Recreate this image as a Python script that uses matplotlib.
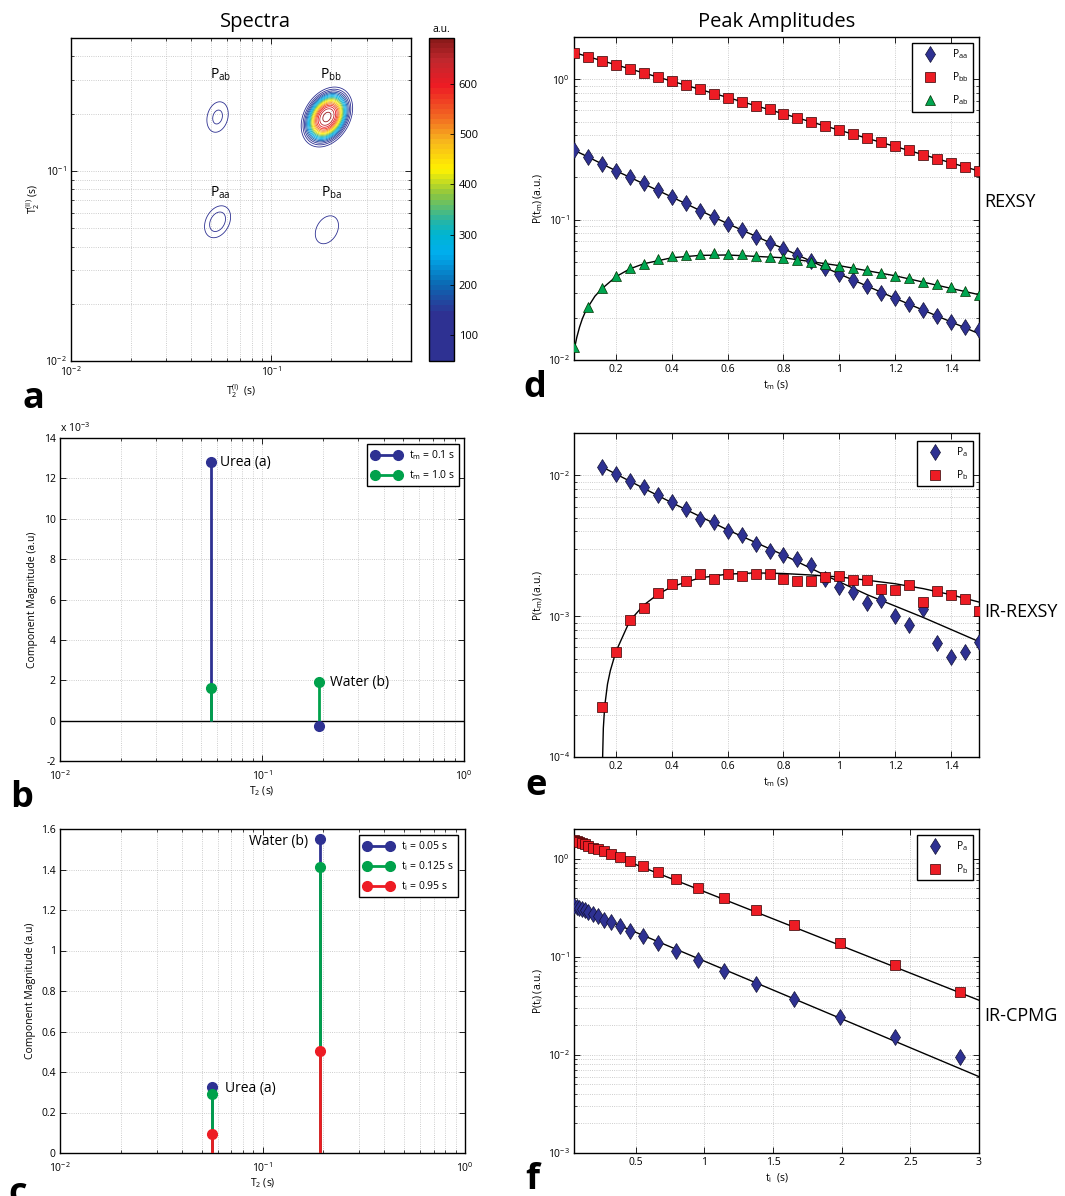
import numpy as np
import matplotlib
matplotlib.use('Agg')
import matplotlib.pyplot as plt
from matplotlib.lines import Line2D
from matplotlib.colors import Normalize, LinearSegmentedColormap
from matplotlib.cm import ScalarMappable
from matplotlib.ticker import NullFormatter, FuncFormatter, MultipleLocator, FixedLocator

plt.rcParams['font.family'] = ['Open Sans', 'DejaVu Sans']
plt.rcParams['mathtext.fontset'] = 'custom'
plt.rcParams['mathtext.rm'] = 'Open Sans'
plt.rcParams['mathtext.it'] = 'Open Sans:italic'
plt.rcParams['mathtext.bf'] = 'Open Sans:bold'
plt.rcParams['axes.unicode_minus'] = True

BLUE = '#2e3192'
GREEN = '#00a14b'
RED = '#ed1c24'
TRI_GREEN = '#00a651'

# ---- (a) 2D T2-T2 spectrum: peak centres (s), amplitudes, widths (decades)
peak_t2_1 = [0.054, 0.054, 0.19, 0.19]
peak_t2_2 = [0.054, 0.192, 0.049, 0.192]
peak_amp = [110, 100, 80, 690]
peak_wx = [0.055, 0.048, 0.064, 0.066]
peak_wy = [0.071, 0.072, 0.081, 0.081]
peak_rho = [0.3, 0.2, 0.3, 0.3]
peak_shape = 1.4
peak_labels = ['aa', 'ab', 'ba', 'bb']
label_pos = [(0.056, 0.077), (0.056, 0.32), (0.2, 0.077), (0.2, 0.32)]
cbar_range = (48, 692)

# ---- (b) component magnitudes vs T2, REXSY
t2_comp = [0.056, 0.192]
mag_tm01 = [12.8e-3, -0.28e-3]
mag_tm10 = [1.62e-3, 1.91e-3]

# ---- (c) component magnitudes vs T2, IR-CPMG
mag_ti005 = [0.327, 1.553]
mag_ti0125 = [0.290, 1.414]
mag_ti095 = [0.092, 0.502]

# ---- (d) REXSY peak amplitudes
tm_d = [0.05, 0.10, 0.15, 0.20, 0.25, 0.30, 0.35, 0.40, 0.45, 0.50,
        0.55, 0.60, 0.65, 0.70, 0.75, 0.80, 0.85, 0.90, 0.95, 1.00,
        1.05, 1.10, 1.15, 1.20, 1.25, 1.30, 1.35, 1.40, 1.45, 1.50]
p_aa_d = [0.313, 0.280, 0.251, 0.223, 0.200, 0.182, 0.162, 0.145, 0.131, 0.116,
          0.104, 0.0936, 0.0840, 0.0757, 0.0682, 0.0621, 0.0560, 0.0510, 0.0453, 0.0410,
          0.0370, 0.0335, 0.0302, 0.0278, 0.0249, 0.0227, 0.0207, 0.0187, 0.0172, 0.0163]
p_bb_d = [1.55, 1.45, 1.36, 1.27, 1.19, 1.11, 1.04, 0.97, 0.91, 0.85,
          0.79, 0.74, 0.69, 0.65, 0.61, 0.57, 0.53, 0.50, 0.465, 0.435,
          0.41, 0.38, 0.356, 0.333, 0.311, 0.291, 0.272, 0.254, 0.238, 0.222]
p_ab_d = [0.0123, 0.0239, 0.0324, 0.0395, 0.0450, 0.0486, 0.0521, 0.0548, 0.0563, 0.0573,
          0.0576, 0.0573, 0.0566, 0.0554, 0.0545, 0.0533, 0.0516, 0.0497, 0.0481, 0.0468,
          0.0453, 0.0436, 0.0417, 0.0395, 0.0382, 0.0357, 0.0348, 0.0330, 0.0310, 0.0290]
fit_bb_d_t = [0.05, 1.5]
fit_bb_d = [1.55, 0.222]
fit_aa_d_t = [0.05, 0.2, 0.4, 0.6, 0.8, 1.0, 1.2, 1.5]
fit_aa_d = [0.313, 0.223, 0.145, 0.0936, 0.0621, 0.0410, 0.0275, 0.0154]
fit_ab_d_t = [0.05, 0.06, 0.07, 0.08, 0.09, 0.10, 0.125, 0.15, 0.2, 0.25,
              0.3, 0.4, 0.5, 0.6, 0.8, 1.0, 1.2, 1.5]
fit_ab_d = [0.0116, 0.0145, 0.0172, 0.0197, 0.0219, 0.0238, 0.0285, 0.0322, 0.0392, 0.0446,
            0.0485, 0.0535, 0.0556, 0.0560, 0.0535, 0.0470, 0.0398, 0.0292]

# ---- (e) IR-REXSY peak amplitudes
tm_e = [0.15, 0.20, 0.25, 0.30, 0.35, 0.40, 0.45, 0.50, 0.55, 0.60,
        0.65, 0.70, 0.75, 0.80, 0.85, 0.90, 0.95, 1.00, 1.05, 1.10,
        1.15, 1.20, 1.25, 1.30, 1.35, 1.40, 1.45, 1.50]
p_a_e = [0.0115, 0.0103, 0.00906, 0.00821, 0.00724, 0.00642, 0.00579, 0.00494, 0.00463, 0.00406,
         0.00378, 0.00326, 0.00290, 0.00273, 0.00253, 0.00232, 0.00184, 0.00160, 0.00149, 0.00124,
         0.00131, 0.00100, 0.000862, 0.00112, 0.000643, 0.000511, 0.000560, 0.000659]
p_b_e = [0.000225, 0.000560, 0.000946, 0.00115, 0.00146, 0.00169, 0.00177, 0.00201, 0.00185, 0.00201,
         0.00194, 0.00201, 0.00198, 0.00185, 0.00179, 0.00177, 0.00190, 0.00192, 0.00181, 0.00182,
         0.00157, 0.00153, 0.00166, 0.00127, 0.00150, 0.00141, 0.00132, 0.00108]
fit_a_e_t = [0.15, 0.4, 0.6, 0.8, 0.95, 1.1, 1.3, 1.5]
fit_a_e = [0.0115, 0.0064, 0.0041, 0.00272, 0.00195, 0.00142, 0.00098, 0.00066]
fit_b_e_t = [0.1525, 0.155, 0.16, 0.17, 0.18, 0.2, 0.25, 0.3, 0.35, 0.4,
             0.5, 0.6, 0.7, 0.8, 0.9, 1.0, 1.1, 1.2, 1.3, 1.4, 1.5]
fit_b_e = [0.0001, 0.00016, 0.00023, 0.00033, 0.00041, 0.00056, 0.00093, 0.00120, 0.00143, 0.00162,
           0.00187, 0.00199, 0.00203, 0.00201, 0.00196, 0.00190, 0.00180, 0.00170, 0.00157, 0.00142,
           0.00126]

# ---- (f) IR-CPMG peak amplitudes
ti_f = [0.05, 0.07, 0.09, 0.11, 0.13, 0.15, 0.19, 0.225, 0.265, 0.32, 0.385,
        0.46, 0.55, 0.66, 0.795, 0.95, 1.14, 1.375, 1.655, 1.985, 2.385, 2.865]
p_a_f = [0.326, 0.320, 0.313, 0.306, 0.297, 0.288, 0.274, 0.258, 0.238, 0.224, 0.204,
         0.183, 0.161, 0.138, 0.115, 0.0929, 0.0718, 0.0525, 0.0372, 0.0242, 0.0151, 0.00942]
p_b_f = [1.54, 1.51, 1.48, 1.45, 1.40, 1.35, 1.28, 1.24, 1.19, 1.12, 1.04,
         0.947, 0.835, 0.731, 0.620, 0.502, 0.393, 0.297, 0.208, 0.138, 0.082, 0.0441]
fit_a_f_t = [0.05, 3.0]
fit_a_f = [0.326, 0.0060]
fit_b_f_t = [0.05, 3.0]
fit_b_f = [1.54, 0.036]

W, H = 1065, 1196
fig = plt.figure(figsize=(W / 100, H / 100), dpi=100)


def box(l, t, r, b):
    return [l / W, 1 - b / H, (r - l) / W, (b - t) / H]


def style(ax, fs=7.5):
    ax.tick_params(which='both', direction='in', top=True, right=True, labelsize=fs, pad=3)
    ax.tick_params(which='major', length=4, width=0.6)
    ax.tick_params(which='minor', length=2, width=0.5)
    ax.grid(True, which='both', ls=':', lw=0.6, color='#bdbdbd')
    ax.set_axisbelow(True)
    for s in ax.spines.values():
        s.set_linewidth(1.0)
    ax.xaxis.set_minor_formatter(NullFormatter())
    ax.yaxis.set_minor_formatter(NullFormatter())


def legend_box(ax, handles, labels, anchor, **kw):
    leg = ax.legend(handles, labels, loc='upper right', bbox_to_anchor=anchor,
                    borderaxespad=0, fancybox=False, framealpha=1, edgecolor='black',
                    fontsize=7.5, **kw)
    leg.get_frame().set_linewidth(1.0)
    return leg


# ---------------- (a) spectrum contour ----------------
ax_a = fig.add_axes(box(71, 38, 411, 361))
cax = fig.add_axes(box(429, 38, 454, 361))
cmap_nodes = [(0.0, '#2e3192'), (0.143, '#2e3192'), (0.236, '#0a6cb5'),
              (0.329, '#00aeef'), (0.391, '#00b5d1'), (0.438, '#2bb5a0'),
              (0.516, '#8dc63f'), (0.593, '#fff200'), (0.686, '#f7b41d'),
              (0.764, '#f26522'), (0.857, '#ed1c24'), (0.935, '#c1272d'),
              (1.0, '#8b1a1a')]
jet = LinearSegmentedColormap.from_list('printjet', cmap_nodes).resampled(64)
norm = Normalize(*cbar_range)

lg = np.linspace(np.log10(0.01), np.log10(0.5), 400)
LX, LY = np.meshgrid(lg, lg)
Z = np.zeros_like(LX)
for t1, t2, amp, sx, sy, rho in zip(peak_t2_1, peak_t2_2, peak_amp, peak_wx, peak_wy, peak_rho):
    dx = (LX - np.log10(t1)) / sx
    dy = (LY - np.log10(t2)) / sy
    q = (dx ** 2 - 2 * rho * dx * dy + dy ** 2) / (2 * (1 - rho ** 2))
    Z += amp * np.exp(-q ** peak_shape)

ax_a.contour(10 ** LX, 10 ** LY, Z, levels=np.linspace(60, 680, 19),
             cmap=jet, norm=norm, linewidths=0.6)
ax_a.set_xscale('log')
ax_a.set_yscale('log')
ax_a.set_xlim(0.01, 0.5)
ax_a.set_ylim(0.01, 0.5)
style(ax_a)
for name, (px, py) in zip(peak_labels, label_pos):
    ax_a.text(px, py, r'$\mathregular{P_{%s}}$' % name, ha='center', va='center', fontsize=10)
ax_a.set_xlabel(r'$\mathregular{T_2^{(I)}}$  (s)', fontsize=7.5, labelpad=2)
ax_a.set_ylabel(r'$\mathregular{T_2^{(II)}}$ (s)', fontsize=7.5, labelpad=2)

cb = fig.colorbar(ScalarMappable(norm=norm, cmap=jet), cax=cax)
cb.set_ticks([100, 200, 300, 400, 500, 600])
cb.ax.tick_params(labelsize=8, direction='in', length=3, width=0.6)
cb.outline.set_linewidth(1.0)
cax.text(0.5, 1.01, 'a.u.', transform=cax.transAxes, ha='center', va='bottom', fontsize=7.5)

fig.text(255 / W, 1 - 22 / H, 'Spectra', ha='center', va='center', fontsize=14.5)
fig.text(777 / W, 1 - 22 / H, 'Peak Amplitudes', ha='center', va='center', fontsize=14.5)


def stems(ax, x, y, color):
    ax.vlines(x, 0, y, color=color, lw=2.0, zorder=3)
    ax.plot(x, y, 'o', color=color, ms=7, zorder=4)


def stem_handle(color):
    return Line2D([], [], color=color, lw=2.0, marker='o', ms=7, markevery=[1])


# ---------------- (b) REXSY components ----------------
ax_b = fig.add_axes(box(60, 438, 464, 761))
ax_b.axhline(0, color='black', lw=1.0, zorder=2)
stems(ax_b, t2_comp, mag_tm01, BLUE)
stems(ax_b, t2_comp, mag_tm10, GREEN)
ax_b.set_xscale('log')
ax_b.set_xlim(0.01, 1)
ax_b.set_ylim(-2e-3, 14e-3)
ax_b.yaxis.set_major_locator(MultipleLocator(2e-3))
ax_b.yaxis.set_major_formatter(FuncFormatter(lambda v, p: '%d' % round(v * 1e3)))
style(ax_b)
ax_b.tick_params(axis='x', which='both', pad=6)
ax_b.text(0, 1.01, r'x $\mathregular{10^{-3}}$', transform=ax_b.transAxes,
          ha='left', va='bottom', fontsize=7.5)
ax_b.text(0.062, mag_tm01[0], 'Urea (a)', ha='left', va='center', fontsize=10)
ax_b.text(0.217, mag_tm10[1], 'Water (b)', ha='left', va='center', fontsize=10)
ax_b.set_xlabel(r'$\mathregular{T_2}$ (s)', fontsize=7.5, labelpad=1)
ax_b.set_ylabel('Component Magnitude (a.u)', fontsize=7.5, labelpad=4)
legend_box(ax_b, [stem_handle(BLUE), stem_handle(GREEN)],
           [r'$\mathregular{t_m}$ = 0.1 s', r'$\mathregular{t_m}$ = 1.0 s'],
           (0.988, 0.981), numpoints=2, handlelength=2.8, labelspacing=0.6)

# ---------------- (c) IR-CPMG components ----------------
ax_c = fig.add_axes(box(60, 829, 465, 1153))
stems(ax_c, t2_comp, mag_ti005, BLUE)
stems(ax_c, t2_comp, mag_ti0125, GREEN)
stems(ax_c, t2_comp, mag_ti095, RED)
ax_c.set_xscale('log')
ax_c.set_xlim(0.01, 1)
ax_c.set_ylim(0, 1.6)
ax_c.yaxis.set_major_locator(MultipleLocator(0.2))
ax_c.yaxis.set_major_formatter(FuncFormatter(lambda v, p: ('%g' % round(v, 1))))
style(ax_c)
ax_c.tick_params(axis='x', which='both', pad=6)
ax_c.text(0.168, 1.536, 'Water (b)', ha='right', va='center', fontsize=10)
ax_c.text(0.065, 0.318, 'Urea (a)', ha='left', va='center', fontsize=10)
ax_c.set_xlabel(r'$\mathregular{T_2}$ (s)', fontsize=7.5, labelpad=1)
ax_c.set_ylabel('Component Magnitude (a.u)', fontsize=7.5, labelpad=4)
legend_box(ax_c, [stem_handle(BLUE), stem_handle(GREEN), stem_handle(RED)],
           [r'$\mathregular{t_i}$ = 0.05 s', r'$\mathregular{t_i}$ = 0.125 s',
            r'$\mathregular{t_i}$ = 0.95 s'],
           (0.983, 0.981), numpoints=2, handlelength=2.8, labelspacing=0.6)

mk_dia = dict(marker='d', ms=8, mfc=BLUE, mec='#111133', mew=0.5, ls='none', zorder=4)
mk_sq = dict(marker='s', ms=6.5, mfc=RED, mec='#330000', mew=0.5, ls='none', zorder=4)
mk_tri = dict(marker='^', ms=7, mfc=TRI_GREEN, mec='#003300', mew=0.5, ls='none', zorder=4)
fit_kw = dict(color='black', lw=1.0, zorder=3)
tm_ticks = [0.2, 0.4, 0.6, 0.8, 1.0, 1.2, 1.4]

# ---------------- (d) REXSY ----------------
ax_d = fig.add_axes(box(574, 37, 979, 360))
ax_d.plot(fit_bb_d_t, fit_bb_d, **fit_kw)
ax_d.plot(fit_aa_d_t, fit_aa_d, **fit_kw)
ax_d.plot(fit_ab_d_t, fit_ab_d, **fit_kw)
h1, = ax_d.plot(tm_d, p_aa_d, **mk_dia)
h2, = ax_d.plot(tm_d, p_bb_d, **mk_sq)
h3, = ax_d.plot(tm_d, p_ab_d, **mk_tri)
ax_d.set_yscale('log')
ax_d.set_xlim(0.05, 1.5)
ax_d.set_ylim(0.01, 2)
ax_d.xaxis.set_major_locator(FixedLocator(tm_ticks))
ax_d.xaxis.set_major_formatter(FuncFormatter(lambda v, p: '%g' % round(v, 1)))
style(ax_d)
ax_d.set_xlabel(r'$\mathregular{t_m}$ (s)', fontsize=7.5, labelpad=2)
ax_d.set_ylabel(r'P($\mathregular{t_m}$) (a.u.)', fontsize=7.5, labelpad=2)
legend_box(ax_d, [h1, h2, h3],
           [r'$\mathregular{P_{aa}}$', r'$\mathregular{P_{bb}}$', r'$\mathregular{P_{ab}}$'],
           (0.985, 0.981), numpoints=1, handlelength=2.6, labelspacing=0.9)

# ---------------- (e) IR-REXSY ----------------
ax_e = fig.add_axes(box(574, 433, 979, 757))
ax_e.plot(fit_a_e_t, fit_a_e, **fit_kw)
ax_e.plot(fit_b_e_t, fit_b_e, **fit_kw)
g1, = ax_e.plot(tm_e, p_a_e, **mk_dia)
g2, = ax_e.plot(tm_e, p_b_e, **mk_sq)
ax_e.set_yscale('log')
ax_e.set_xlim(0.05, 1.5)
ax_e.set_ylim(1e-4, 0.02)
ax_e.xaxis.set_major_locator(FixedLocator(tm_ticks))
ax_e.xaxis.set_major_formatter(FuncFormatter(lambda v, p: '%g' % round(v, 1)))
style(ax_e)
ax_e.set_xlabel(r'$\mathregular{t_m}$ (s)', fontsize=7.5, labelpad=2)
ax_e.set_ylabel(r'P($\mathregular{t_m}$) (a.u.)', fontsize=7.5, labelpad=2)
legend_box(ax_e, [g1, g2], [r'$\mathregular{P_a}$', r'$\mathregular{P_b}$'],
           (0.985, 0.975), numpoints=1, handlelength=2.6, labelspacing=0.9)

# ---------------- (f) IR-CPMG ----------------
ax_f = fig.add_axes(box(574, 829, 979, 1153))
ax_f.plot(fit_b_f_t, fit_b_f, **fit_kw)
ax_f.plot(fit_a_f_t, fit_a_f, **fit_kw)
k1, = ax_f.plot(ti_f, p_a_f, **mk_dia)
k2, = ax_f.plot(ti_f, p_b_f, **mk_sq)
ax_f.set_yscale('log')
ax_f.set_xlim(0.05, 3)
ax_f.set_ylim(1e-3, 2)
ax_f.xaxis.set_major_locator(FixedLocator([0.5, 1, 1.5, 2, 2.5, 3]))
ax_f.xaxis.set_major_formatter(FuncFormatter(lambda v, p: '%g' % v))
style(ax_f)
ax_f.set_xlabel(r'$\mathregular{t_i}$  (s)', fontsize=7.5, labelpad=2)
ax_f.set_ylabel(r'P($\mathregular{t_i}$) (a.u.)', fontsize=7.5, labelpad=2)
legend_box(ax_f, [k1, k2], [r'$\mathregular{P_a}$', r'$\mathregular{P_b}$'],
           (0.985, 0.981), numpoints=1, handlelength=2.6, labelspacing=0.9)

# experiment names to the right of the panels
fig.text(984 / W, 1 - 202 / H, 'REXSY', ha='left', va='center', fontsize=13)
fig.text(984 / W, 1 - 612 / H, 'IR-REXSY', ha='left', va='center', fontsize=13)
fig.text(984 / W, 1 - 1016 / H, 'IR-CPMG', ha='left', va='center', fontsize=13)

# panel letters
for letter, x, y in [('a', 22, 408), ('b', 10, 807), ('c', 8, 1203),
                     ('d', 523, 397), ('e', 525, 795), ('f', 525, 1189)]:
    fig.text(x / W, 1 - y / H, letter, ha='left', va='baseline', fontsize=26, fontweight='bold')

fig.savefig('out.png', dpi=100)
